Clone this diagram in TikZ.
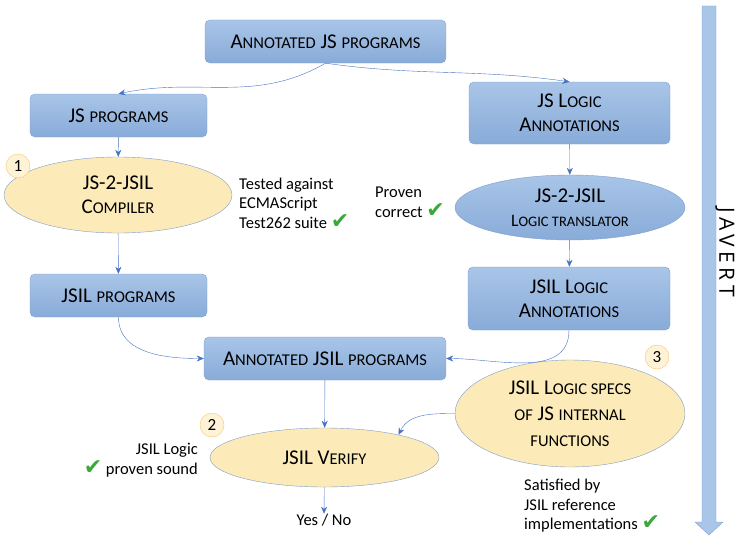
\documentclass[tikz,border=0pt]{standalone}
\usepackage{fontspec}
\setmainfont{Carlito}
\newfontfamily\symfont{DejaVu Sans}
\newfontfamily\javfont[LetterSpace=22]{Open Sans}
\usetikzlibrary{shapes.geometric,arrows.meta}
\definecolor{boxtop}{HTML}{A9C5E8}
\definecolor{boxbot}{HTML}{88ABD8}
\definecolor{boxline}{HTML}{7EA0CF}
\definecolor{yel}{HTML}{FCEBB8}
\definecolor{yelline}{HTML}{7F9CCB}
\definecolor{numfill}{HTML}{FEF3D6}
\definecolor{numline}{HTML}{F5C670}
\definecolor{flowc}{HTML}{4472C4}
\definecolor{okgreen}{HTML}{3AA83A}
\newcommand\sm[1]{{\fontsize{16.5}{19}\selectfont #1}}
\newcommand\ok{\raisebox{0pt}[0pt][0pt]{\textcolor{okgreen}{\symfont\fontsize{22}{22}\selectfont ✔}}}
\begin{document}
\begin{tikzpicture}[x=1pt,y=-1pt,
  every node/.style={font=\fontsize{21}{24}\selectfont},
  box/.style={rectangle,rounded corners=5pt,top color=boxtop,bottom color=boxbot,draw=boxline,align=center,inner sep=0pt},
  bluell/.style={ellipse,top color=boxtop,bottom color=boxbot,draw=boxline,align=center,inner sep=0pt},
  yelll/.style={ellipse,fill=yel,draw=yelline,align=center,inner sep=0pt},
  num/.style={circle,fill=numfill,draw=numline,minimum size=24pt,inner sep=0pt,font=\fontsize{17}{17}\selectfont},
  note/.style={inner sep=0pt,font=\fontsize{16.5}{19.5}\selectfont},
  flow/.style={draw=flowc,-{Stealth[length=7pt,width=6pt]}}]
\useasboundingbox (0,0) rectangle (735,535);
% javert arrow
\filldraw[fill=boxtop,draw=boxline] (702,6) -- (716,6) -- (716,522) -- (723,522) -- (709,535) -- (695,522) -- (702,522) -- cycle;
\node[rotate=-90,inner sep=0pt,font=\javfont\fontsize{21}{21}\selectfont] (javert) at (725,252) {JAVERT};
% boxes and ellipses
\node[box,minimum width=241pt,minimum height=43pt] (ajs) at (325.5,41.5) {A\sm{NNOTATED} JS \sm{PROGRAMS}};
\node[box,minimum width=177pt,minimum height=43pt] (jsp) at (118.5,115.5) {JS \sm{PROGRAMS}};
\node[box,minimum width=201pt,minimum height=62pt] (jsl) at (569.5,113) {JS L\sm{OGIC}\\A\sm{NNOTATIONS}};
\node[yelll,minimum width=228pt,minimum height=76pt] (comp) at (118,195) {JS-2-JSIL\\C\sm{OMPILER}};
\node[bluell,minimum width=230pt,minimum height=65pt] (trans) at (570,207.5) {JS-2-JSIL\\{\fontsize{17.5}{21}\selectfont L{\fontsize{14.5}{21}\selectfont OGIC TRANSLATOR}}};
\node[box,minimum width=177pt,minimum height=43pt] (jsilp) at (118.5,295.5) {JSIL \sm{PROGRAMS}};
\node[box,minimum width=202pt,minimum height=63pt] (jsill) at (569,298.5) {JSIL L\sm{OGIC}\\A\sm{NNOTATIONS}};
\node[box,minimum width=242pt,minimum height=43pt] (ajsil) at (325,358.5) {A\sm{NNOTATED} JSIL \sm{PROGRAMS}};
\node[yelll,minimum width=230pt,minimum height=107pt,font=\fontsize{21}{26}\selectfont] (specs) at (570,413.5) {JSIL L\sm{OGIC SPECS}\\\sm{OF} JS \sm{INTERNAL}\\\sm{FUNCTIONS}};
\node[yelll,minimum width=229pt,minimum height=59pt] (verify) at (324.5,457.5) {JSIL V\sm{ERIFY}};
% numbers
\node[num] (n1) at (18,166) {1};
\node[num] (n2) at (212,425) {2};
\node[num] (n3) at (657,357) {3};
% notes
\node[note,anchor=west,align=left] (tested) at (239,203) {Tested against\\ECMAScript\\Test262 suite \ok};
\node[note,anchor=west,align=left] (proven) at (375,202.5) {Proven\\correct \ok};
\node[note,anchor=east,align=right] (sound) at (198,460) {JSIL Logic\\\ok\ proven sound};
\node[note,anchor=west,align=left] (satis) at (524,506) {Satisfied by\\JSIL reference\\implementations \ok};
\node[note] (yesno) at (324,520) {Yes / No};
% connectors
\draw[flow] (ajs.south) to[out=210,in=12] (jsp.north);
\draw[flow] (ajs.south) to[out=-8,in=172] (jsl.north);
\draw[flow] (jsp) -- (comp);
\draw[flow] (comp) -- (jsilp);
\draw[flow] (jsl) -- (trans);
\draw[flow] (trans) -- (jsill);
\draw[flow] (jsilp.south) to[out=-90,in=180] (ajsil.west);
\draw[flow] (jsill.south) to[out=-90,in=0] (ajsil.east);
\draw[flow] (ajsil) -- (verify);
\draw[flow] (specs.west) to[out=180,in=65] (verify.17);
\draw[flow] (verify) -- (yesno);
\end{tikzpicture}
\end{document}
